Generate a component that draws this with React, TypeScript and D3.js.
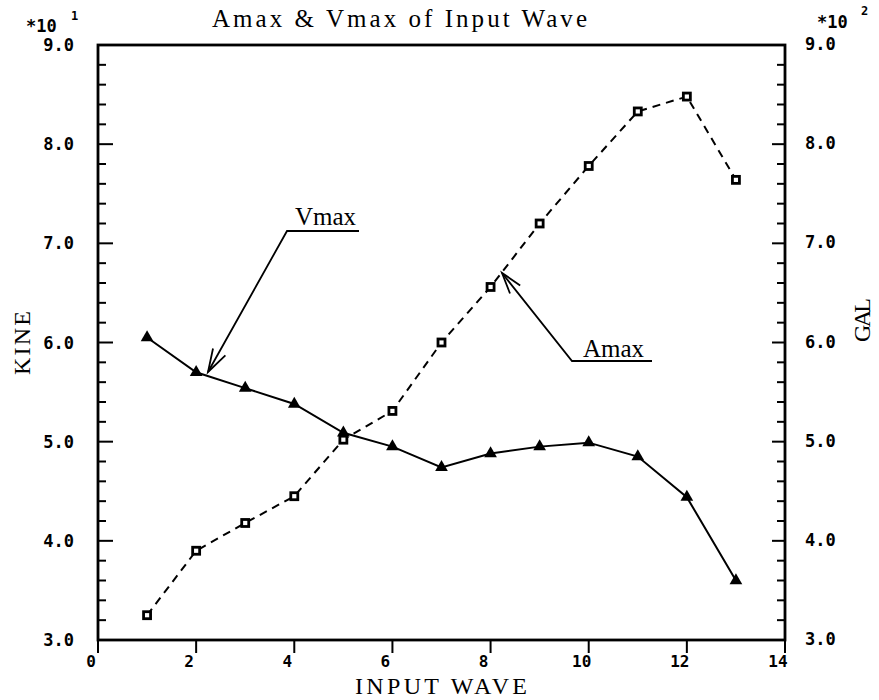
import React from 'react';
import * as d3 from 'd3';

const waves = [1, 2, 3, 4, 5, 6, 7, 8, 9, 10, 11, 12, 13];
const vmax = [6.05, 5.7, 5.54, 5.38, 5.09, 4.95, 4.74, 4.88, 4.95, 4.99, 4.85, 4.44, 3.6];
const amax = [3.25, 3.9, 4.18, 4.45, 5.02, 5.31, 6.0, 6.56, 7.2, 7.78, 8.33, 8.48, 7.64];
const xTicks = [0, 2, 4, 6, 8, 10, 12, 14];
const yTicks = [3, 4, 5, 6, 7, 8, 9];
const title = 'Amax & Vmax of Input Wave';
const xTitle = 'INPUT WAVE';
const yLeftTitle = 'KINE';
const yRightTitle = 'GAL';

const W = 879;
const H = 700;
const L = 98;
const R = 785;
const T = 45;
const B = 640;

export default function App() {
  const x = d3.scaleLinear().domain([0, 14]).range([L, R]);
  const yL = d3.scaleLinear().domain([3, 9]).range([B, T]);
  const yR = d3.scaleLinear().domain([3, 9]).range([B, T]);
  const minor = d3.range(3, 9.0001, 0.2).map((v) => +v.toFixed(1));
  const isMajor = (v: number) => Math.abs(v - Math.round(v)) < 1e-6;

  const vLine = d3
    .line<number>()
    .x((_, i) => x(waves[i]))
    .y((d) => yL(d));
  const aLine = d3
    .line<number>()
    .x((_, i) => x(waves[i]))
    .y((d) => yR(d));
  const tri = d3.symbol().type(d3.symbolTriangle).size(70)();

  const tickFont = {
    fontFamily: '"DejaVu Sans Mono", monospace',
    fontWeight: 'bold' as const,
    fontSize: 17,
  };
  const serifMono = { fontFamily: '"Liberation Serif", "DejaVu Serif", serif' };

  const arrowHead = (x1: number, y1: number, x2: number, y2: number, len = 20, ang = 0.32) => {
    const a = Math.atan2(y1 - y2, x1 - x2);
    const p1 = [x2 + len * Math.cos(a + ang), y2 + len * Math.sin(a + ang)];
    const p2 = [x2 + len * Math.cos(a - ang), y2 + len * Math.sin(a - ang)];
    return `M${p1[0]},${p1[1]}L${x2},${y2}L${p2[0]},${p2[1]}`;
  };

  return (
    <svg
      width={W}
      height={H}
      style={{ position: 'absolute', left: 0, top: 0, background: '#fff' }}
    >
      {/* title */}
      <text x={212} y={27} textLength={375} lengthAdjust="spacing" fontSize={25} {...serifMono}>
        {title}
      </text>

      {/* frame */}
      <rect x={L} y={T} width={R - L} height={B - T} fill="none" stroke="#000" strokeWidth={2.8} />

      {/* left ticks */}
      {minor.map((v) => (
        <line
          key={'l' + v}
          x1={L}
          x2={L + (isMajor(v) ? 15 : 8)}
          y1={yL(v)}
          y2={yL(v)}
          stroke="#000"
          strokeWidth={2}
        />
      ))}
      {/* right ticks */}
      {minor.map((v) => (
        <line
          key={'r' + v}
          x1={R}
          x2={R - (isMajor(v) ? 13 : 8)}
          y1={yR(v)}
          y2={yR(v)}
          stroke="#000"
          strokeWidth={2}
        />
      ))}
      {/* x ticks (outward) */}
      {xTicks.map((v) => (
        <line key={'x' + v} x1={x(v)} x2={x(v)} y1={B} y2={B + 13} stroke="#000" strokeWidth={2} />
      ))}

      {/* left tick labels */}
      {yTicks.map((v) => (
        <text key={'ll' + v} x={74} y={yL(v) + 6} textAnchor="end" {...tickFont}>
          {v.toFixed(1)}
        </text>
      ))}
      {/* right tick labels */}
      {yTicks.map((v) => (
        <text key={'rl' + v} x={805} y={yR(v) + 5} textAnchor="start" {...tickFont}>
          {v.toFixed(1)}
        </text>
      ))}
      {/* x tick labels */}
      {xTicks.map((v) => (
        <text key={'xl' + v} x={x(v) - 7} y={667} textAnchor="middle" {...tickFont} fontSize={16}>
          {v}
        </text>
      ))}

      {/* scale multipliers */}
      <text x={26} y={32} {...tickFont}>*10</text>
      <text x={71} y={20} {...tickFont} fontSize={12}>1</text>
      <text x={817} y={28} {...tickFont}>*10</text>
      <text x={861} y={15} {...tickFont} fontSize={12}>2</text>

      {/* axis titles */}
      <text x={441} y={694} textAnchor="middle" textLength={172} lengthAdjust="spacing" fontSize={24} {...serifMono}>
        {xTitle}
      </text>
      <text
        transform={`translate(30,343) rotate(-90)`}
        textAnchor="middle"
        textLength={64}
        lengthAdjust="spacing"
        fontSize={24}
        {...serifMono}
      >
        {yLeftTitle}
      </text>
      <text
        transform={`translate(870,320) rotate(-90)`}
        textAnchor="middle"
        textLength={44}
        lengthAdjust="spacing"
        fontSize={24}
        {...serifMono}
      >
        {yRightTitle}
      </text>

      {/* Amax series */}
      <path d={aLine(amax) || ''} fill="none" stroke="#000" strokeWidth={2} strokeDasharray="8,6" />
      {amax.map((v, i) => (
        <rect
          key={'a' + i}
          x={x(waves[i]) - 3.5}
          y={yR(v) - 3.5}
          width={7}
          height={7}
          fill="#fff"
          stroke="#000"
          strokeWidth={2.8}
        />
      ))}

      {/* Vmax series */}
      <path d={vLine(vmax) || ''} fill="none" stroke="#000" strokeWidth={2} />
      {vmax.map((v, i) => (
        <path key={'v' + i} d={tri || ''} transform={`translate(${x(waves[i])},${yL(v)})`} fill="#000" />
      ))}

      {/* annotations */}
      <text x={295} y={225} fontSize={25} fontFamily='"Liberation Serif", serif'>Vmax</text>
      <path d="M359,231L287,231L208,372" fill="none" stroke="#000" strokeWidth={1.8} />
      <path d={arrowHead(287, 231, 208, 372, 24, 0.3)} fill="none" stroke="#000" strokeWidth={1.8} />

      <text x={583} y={357} fontSize={25} fontFamily='"Liberation Serif", serif'>Amax</text>
      <path d="M652,361L572,361L502,273" fill="none" stroke="#000" strokeWidth={1.8} />
      <path d={arrowHead(572, 361, 502, 273, 22, 0.3)} fill="none" stroke="#000" strokeWidth={1.8} />
    </svg>
  );
}
